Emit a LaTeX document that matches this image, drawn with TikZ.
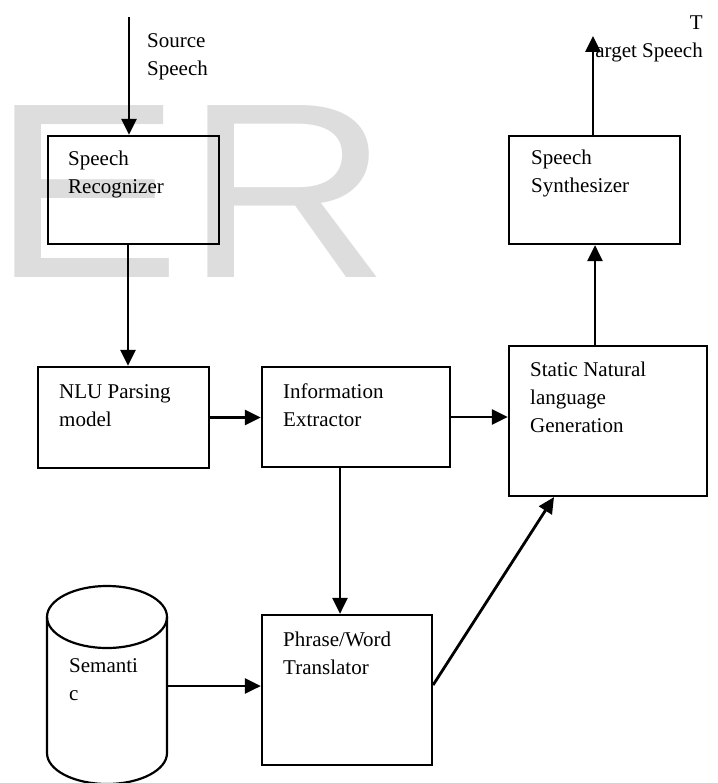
\documentclass[tikz,border=0pt]{standalone}
\usepackage{fontspec}
\setmainfont{Liberation Serif}
\newfontfamily\wmfont{Liberation Sans}
\usetikzlibrary{arrows.meta}
\definecolor{wmgray}{RGB}{221,221,221}
\begin{document}
\begin{tikzpicture}[x=1pt,y=-1pt,
  box/.style={draw,line width=2.2pt,inner sep=0pt},
  lbl/.style={anchor=base west,inner sep=0pt,align=left,font=\fontsize{21}{28}\selectfont},
  arr/.style={line width=2.8pt,-{Triangle[length=16pt,width=15pt]}},
  shapeline/.style={line width=2.2pt}]
\useasboundingbox (0,0) rectangle (717,783);
% watermark
\node[anchor=base west,inner sep=0pt,text=wmgray,font=\wmfont\fontsize{250}{250}\selectfont] (wm) at (-9,277) {\scalebox{1.14}[1]{E\kern3ptR}};
% boxes
\node[box,minimum width=171pt,minimum height=108pt] (recog) at (133.5,190) {};
\node[box,minimum width=171pt,minimum height=101pt] (nlu) at (123.5,417.5) {};
\node[box,minimum width=188pt,minimum height=100pt] (info) at (356,417) {};
\node[box,minimum width=198pt,minimum height=150pt] (static) at (608,421) {};
\node[box,minimum width=171pt,minimum height=108pt] (synth) at (594.5,190) {};
\node[box,minimum width=170pt,minimum height=150pt] (phrase) at (347,690) {};
% cylinder
\draw[shapeline] (47,617) -- (47,753) arc[start angle=180,end angle=360,x radius=60pt,y radius=31pt] -- (167,617);
\draw[shapeline] (107,617) ellipse [x radius=60pt,y radius=31pt];
% labels (anchored at the baseline of their last line)
\node[lbl] (srcL) at (147,76) {Source\\Speech};
\node[lbl] (recogL) at (68,194) {Speech\\Recognizer};
\node[lbl] (nluL) at (59,426) {NLU Parsing\\model};
\node[lbl] (infoL) at (283,426) {Information\\Extractor};
\node[lbl] (staticL) at (530,432) {Static Natural\\language\\Generation};
\node[lbl] (synthL) at (531,193) {Speech\\Synthesizer};
\node[lbl] (phraseL) at (283,674) {Phrase/Word\\Translator};
\node[lbl] (semL) at (69,700) {Semanti\\c};
\node[lbl,anchor=base east,align=right] (tgtL) at (703,58) {T\\arget Speech};
% connectors
\coordinate (srcTop) at (129,17);
\coordinate (tgtTop) at (593,36);
\coordinate (semR) at (167,686);
\draw[arr] (srcTop) -- (srcTop |- recog.north);
\draw[arr] ([xshift=-5.5pt]recog.south) -- ([xshift=-5.5pt]recog.south |- nlu.north);
\draw[arr] (nlu.east) -- (nlu.east -| info.west);
\draw[arr] (info.east) -- (info.east -| static.west);
\draw[arr] ([xshift=-16pt]info.south) -- ([xshift=-16pt]info.south |- phrase.north);
\draw[arr] (semR) -- (semR -| phrase.west);
\draw[arr] ([yshift=5pt]phrase.east) -- ([xshift=-54pt]static.south);
\draw[arr] ([xshift=-13pt]static.north) -- ([xshift=-13pt]static.north |- synth.south);
\draw[arr] (tgtTop |- synth.north) -- (tgtTop);
\end{tikzpicture}
\end{document}
